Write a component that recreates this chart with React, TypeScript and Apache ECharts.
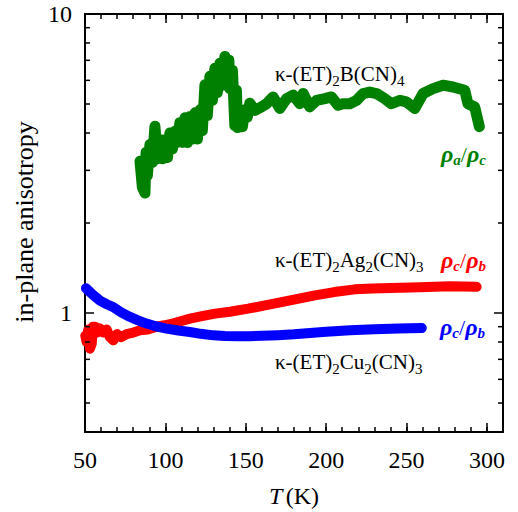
import React, { useEffect, useRef } from "react";
import * as echarts from "echarts";

// κ-(ET)2B(CN)4 : ρa/ρc
const bcnT = [84.2, 85.7, 87.3, 88.0, 88.8, 90.4, 91.9, 93.5, 95.1, 96.6, 98.2, 99.7, 101.3, 102.8, 104.4, 105.9, 107.5, 109.0, 110.6, 112.2, 113.7, 115.3, 116.8, 118.4, 119.9, 121.5, 123.0, 124.6, 126.1, 127.7, 129.2, 130.8, 132.3, 133.9, 135.5, 137.0, 138.6, 139.5, 140.1, 141.7, 143.2, 144.2, 144.8, 146.3, 147.9, 149.4, 151.0, 152.5, 155.7, 159.8, 162.9, 167.0, 171.2, 175.4, 179.5, 183.6, 185.7, 189.8, 194.0, 199.2, 203.3, 207.4, 210.5, 214.7, 218.9, 223.0, 227.1, 231.3, 236.4, 240.6, 245.8, 249.9, 255.1, 260.3, 266.5, 272.7, 278.9, 286.2, 288.2, 292.4, 295.3];
const bcnRatio = [3.22, 2.63, 2.52, 3.45, 2.89, 3.66, 3.19, 4.21, 3.28, 3.80, 3.28, 3.80, 3.31, 4.00, 3.54, 4.05, 3.72, 4.33, 3.72, 4.50, 3.72, 4.54, 3.82, 4.67, 3.82, 4.78, 4.08, 5.80, 4.58, 6.19, 5.14, 6.59, 5.46, 6.84, 5.78, 7.21, 6.24, 7.00, 5.62, 6.48, 4.23, 5.56, 4.17, 4.72, 4.20, 4.78, 4.52, 5.03, 4.76, 4.89, 5.01, 5.28, 4.83, 5.21, 5.35, 5.01, 5.42, 4.89, 5.14, 5.21, 5.28, 4.95, 5.01, 5.01, 5.14, 5.42, 5.48, 5.42, 5.21, 5.01, 5.14, 5.08, 4.83, 5.42, 5.63, 5.78, 5.70, 5.56, 5.01, 4.89, 4.20];

// κ-(ET)2Ag2(CN)3 : ρc/ρb
const agT = [50.2, 51.0, 52.0, 53.1, 54.2, 55.0, 56.2, 57.5, 59.0, 61.4, 63.5, 65.5, 67.6, 70.0, 72.5, 75.9, 80.0, 84.2, 89.0, 94.6, 99.5, 104.9, 110.0, 115.3, 122.0, 130.8, 140.0, 151.5, 162.0, 172.2, 183.0, 193.0, 205.0, 217.8, 229.0, 240.2, 258.2, 276.8, 293.6];
const agRatio = [0.84, 0.80, 0.88, 0.76, 0.79, 0.90, 0.90, 0.86, 0.89, 0.86, 0.88, 0.83, 0.81, 0.85, 0.83, 0.85, 0.86, 0.875, 0.88, 0.90, 0.91, 0.924, 0.94, 0.958, 0.975, 0.995, 1.01, 1.034, 1.06, 1.088, 1.118, 1.146, 1.175, 1.200, 1.207, 1.212, 1.220, 1.228, 1.223];

// κ-(ET)2Cu2(CN)3 : ρc/ρb
const cuT = [50.6, 55.0, 59.3, 63.5, 67.6, 72.5, 78.0, 83.0, 88.3, 94.0, 100.8, 108.0, 115.3, 122.0, 129.8, 137.0, 145.0, 152.0, 160.0, 170.0, 180.0, 190.0, 200.0, 215.0, 230.0, 245.0, 259.5];
const cuRatio = [1.21, 1.15, 1.10, 1.07, 1.047, 1.005, 0.970, 0.945, 0.922, 0.903, 0.887, 0.874, 0.864, 0.852, 0.842, 0.838, 0.836, 0.836, 0.839, 0.843, 0.849, 0.858, 0.866, 0.875, 0.882, 0.887, 0.891];

// Axis ranges and ticks
const X_MIN = 50;
const X_MAX = 310;
const Y_MIN = 0.4;
const Y_MAX = 10;
const xTickLabels = [50, 100, 150, 200, 250, 300];
const yTickLabels = [1, 10];
const yMinorTicks = [0.5, 0.6, 0.7, 0.8, 0.9, 2, 3, 4, 5, 6, 7, 8, 9];

const SERIF = "Liberation Serif";
const GREEN = "#008000";
const RED = "#ff0000";
const BLUE = "#0000ff";

const pairs = (xs: number[], ys: number[]) => xs.map((x, i) => [x, ys[i]]);

const compoundRich = {
  m: { fontFamily: SERIF, fontSize: 21, lineHeight: 22, fill: "#000" },
  s: { fontFamily: SERIF, fontSize: 15, lineHeight: 22, padding: [14, 0, 0, 0], fill: "#000" },
};

const ratioRich = (color: string) => ({
  r: { fontFamily: SERIF, fontSize: 24, fontWeight: "bold", fontStyle: "italic", lineHeight: 24, fill: color },
  i: { fontFamily: SERIF, fontSize: 15, fontWeight: "bold", fontStyle: "italic", lineHeight: 24, padding: [12, 0, 0, 0], fill: color },
  d: { fontFamily: SERIF, fontSize: 22, lineHeight: 24, fill: color },
});

function baseXAxis(position: "bottom" | "top", interval: number, len: number, labels: boolean, line: boolean) {
  return {
    type: "value",
    position,
    min: X_MIN,
    max: X_MAX,
    interval,
    axisLine: { show: line, lineStyle: { color: "#000", width: 2 } },
    axisTick: { show: true, inside: true, length: len, lineStyle: { color: "#000", width: 1.5 } },
    axisLabel: {
      show: labels,
      margin: 16,
      fontFamily: SERIF,
      fontSize: 24,
      color: "#000",
      formatter: (v: number) => (xTickLabels.includes(v) ? String(v) : ""),
    },
    splitLine: { show: false },
  };
}

function baseYAxis(position: "left" | "right", labels: boolean) {
  return {
    type: "log",
    logBase: 10,
    position,
    min: Y_MIN,
    max: Y_MAX,
    axisLine: { show: true, lineStyle: { color: "#000", width: 2 } },
    axisTick: { show: true, inside: true, length: 9, lineStyle: { color: "#000", width: 1.5 } },
    axisLabel: {
      show: labels,
      margin: 13,
      fontFamily: SERIF,
      fontSize: 24,
      color: "#000",
      formatter: (v: number) => {
        const hit = yTickLabels.find((t) => Math.abs(t - v) < 1e-6);
        return hit !== undefined ? String(hit) : "";
      },
    },
    splitLine: { show: false },
  };
}

export default function App() {
  const ref = useRef<HTMLDivElement>(null);

  useEffect(() => {
    if (!ref.current) return;
    const chart = echarts.init(ref.current, null, { renderer: "svg" });

    const lineSeries = (name: string, data: number[][], color: string, width: number) => ({
      name,
      type: "line",
      xAxisIndex: 0,
      yAxisIndex: 0,
      data,
      showSymbol: false,
      clip: false,
      lineStyle: { color, width, cap: "round", join: "round" },
      z: 3,
    });

    chart.setOption({
      animation: false,
      backgroundColor: "#fff",
      grid: { left: 85, right: 15, top: 14, bottom: 80 },
      xAxis: [
        baseXAxis("bottom", 10, 5, true, true),
        baseXAxis("bottom", 50, 9, false, false),
        baseXAxis("top", 10, 5, false, true),
        baseXAxis("top", 50, 9, false, false),
      ],
      yAxis: [baseYAxis("left", true), baseYAxis("right", false)],
      series: [
        lineSeries("ρa/ρc B(CN)4", pairs(bcnT, bcnRatio), GREEN, 11),
        lineSeries("ρc/ρb Ag2(CN)3", pairs(agT, agRatio), RED, 10),
        lineSeries("ρc/ρb Cu2(CN)3", pairs(cuT, cuRatio), BLUE, 10),
        {
          // minor log ticks on the left and right frame
          type: "custom",
          xAxisIndex: 0,
          yAxisIndex: 0,
          silent: true,
          clip: false,
          z: 5,
          data: yMinorTicks.map((v) => [X_MIN, v]),
          renderItem: (params: any, api: any) => {
            const cs = params.coordSys;
            const y = api.coord([api.value(0), api.value(1)])[1];
            const st = { stroke: "#000", lineWidth: 1.5 };
            return {
              type: "group",
              children: [
                { type: "line", shape: { x1: cs.x, y1: y, x2: cs.x + 5, y2: y }, style: st },
                { type: "line", shape: { x1: cs.x + cs.width, y1: y, x2: cs.x + cs.width - 5, y2: y }, style: st },
              ],
            };
          },
        },
      ],
      graphic: [
        {
          type: "text",
          x: 24,
          y: 222,
          rotation: Math.PI / 2,
          style: {
            text: "in-plane anisotropy",
            fontFamily: SERIF,
            fontSize: 26,
            fill: "#000",
            align: "center",
            verticalAlign: "middle",
          },
        },
        {
          type: "text",
          x: 294,
          y: 496,
          style: {
            text: "{t|T} {n|(K)}",
            align: "center",
            verticalAlign: "middle",
            rich: {
              t: { fontFamily: SERIF, fontSize: 24, fontStyle: "italic", fill: "#000" },
              n: { fontFamily: SERIF, fontSize: 24, fill: "#000" },
            },
          },
        },
        {
          type: "text",
          x: 275,
          y: 74,
          style: {
            text: "{m|κ-(ET)}{s|2}{m|B(CN)}{s|4}",
            align: "left",
            verticalAlign: "middle",
            rich: compoundRich,
          },
        },
        {
          type: "text",
          x: 275,
          y: 260,
          style: {
            text: "{m|κ-(ET)}{s|2}{m|Ag}{s|2}{m|(CN)}{s|3}",
            align: "left",
            verticalAlign: "middle",
            rich: compoundRich,
          },
        },
        {
          type: "text",
          x: 275,
          y: 362,
          style: {
            text: "{m|κ-(ET)}{s|2}{m|Cu}{s|2}{m|(CN)}{s|3}",
            align: "left",
            verticalAlign: "middle",
            rich: compoundRich,
          },
        },
        {
          type: "text",
          x: 441,
          y: 154,
          style: {
            text: "{r|ρ}{i|a}{d|/}{r|ρ}{i|c}",
            align: "left",
            verticalAlign: "middle",
            rich: ratioRich(GREEN),
          },
        },
        {
          type: "text",
          x: 441,
          y: 260,
          style: {
            text: "{r|ρ}{i|c}{d|/}{r|ρ}{i|b}",
            align: "left",
            verticalAlign: "middle",
            rich: ratioRich(RED),
          },
        },
        {
          type: "text",
          x: 440,
          y: 327,
          style: {
            text: "{r|ρ}{i|c}{d|/}{r|ρ}{i|b}",
            align: "left",
            verticalAlign: "middle",
            rich: ratioRich(BLUE),
          },
        },
      ],
    });

    return () => chart.dispose();
  }, []);

  return (
    <div
      ref={ref}
      style={{ position: "fixed", left: 0, top: 0, width: 518, height: 512, background: "#fff" }}
    />
  );
}
